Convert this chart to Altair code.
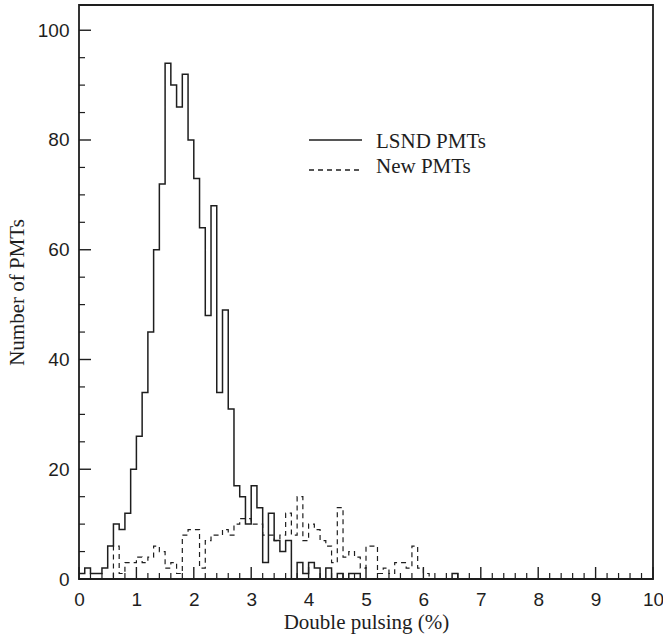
import altair as alt
import pandas as pd
import numpy as np

# ---- data (bins of 0.1 % from 0 to 10) ----
bin_width = 0.1
lsnd_counts = [
    1, 2, 1, 1, 2, 6, 10, 9, 12, 20,
    26, 34, 45, 60, 72, 94, 90, 86, 92, 80,
    73, 64, 48, 68, 34, 49, 31, 17, 15, 10,
    17, 13, 3, 12, 7, 5, 7, 0, 3, 1,
    3, 2, 0, 2, 0, 1, 0, 1, 1, 0,
    0, 0, 0, 0, 0, 0, 0, 0, 0, 0,
    0, 0, 0, 0, 0, 1, 0, 0, 0, 0,
    0, 0, 0, 0, 0, 0, 0, 0, 0, 0,
    0, 0, 0, 0, 0, 0, 0, 0, 0, 0,
    0, 0, 0, 0, 0, 0, 0, 0, 0, 0,
]
new_counts = [
    0, 0, 0, 0, 0, 0, 6, 1, 3, 3,
    4, 3, 4, 6, 5, 2, 3, 1, 8, 9,
    9, 2, 7, 8, 8, 9, 8, 10, 11, 11,
    10, 10, 8, 8, 7, 8, 12, 8, 15, 7,
    10, 9, 7, 6, 3, 13, 4, 5, 4, 2,
    6, 6, 1, 2, 1, 3, 3, 2, 6, 2,
    1, 0, 0, 0, 0, 0, 0, 0, 0, 0,
    0, 0, 0, 0, 0, 0, 0, 0, 0, 0,
    0, 0, 0, 0, 0, 0, 0, 0, 0, 0,
    0, 0, 0, 0, 0, 0, 0, 0, 0, 0,
]
x_major = [0, 1, 2, 3, 4, 5, 6, 7, 8, 9, 10]
y_major = [0, 20, 40, 60, 80, 100]
legend_labels = ["LSND PMTs", "New PMTs"]

edges = np.round(np.arange(len(lsnd_counts) + 1) * bin_width, 2)
x_minor = [float(v) for v in np.round(np.arange(0, 10.01, 0.2), 2) if abs(v - round(v)) > 1e-6]
y_minor = [v for v in range(0, 101, 5) if v % 20 != 0]

df_lsnd = pd.DataFrame({"x": edges, "n": lsnd_counts + [lsnd_counts[-1]]})
df_new = pd.DataFrame({"x": edges, "n": new_counts + [new_counts[-1]]})

W, H = 574, 574
XDOM = [0, 10]
YDOM = [0, 104.6]
INK = "#1e1e1e"
SANS = "Liberation Sans"
SERIF = "Liberation Serif"
MAJ, MIN = 12, 6

xscale = alt.Scale(domain=XDOM, nice=False, zero=False)
yscale = alt.Scale(domain=YDOM, nice=False)

solid = alt.Chart(df_lsnd).mark_line(
    interpolate="step-after", color=INK, strokeWidth=1.5
).encode(
    x=alt.X("x:Q", scale=xscale, axis=alt.Axis(
        orient="bottom", values=x_major, format="d", ticks=False,
        domain=False, grid=False,
        labelFont=SANS, labelFontSize=19, labelColor=INK, labelPadding=11,
        labelFlush=False, labelOverlap=False,
        title="Double pulsing (%)", titleFont=SERIF, titleFontSize=21,
        titleFontWeight="normal", titleColor=INK, titlePadding=2)),
    y=alt.Y("n:Q", scale=yscale, axis=alt.Axis(
        orient="left", values=y_major, format="d", ticks=False,
        domain=False, grid=False,
        labelFont=SANS, labelFontSize=19, labelColor=INK, labelPadding=10,
        labelFlush=False, labelOverlap=False,
        title="Number of PMTs", titleFont=SERIF, titleFontSize=21,
        titleFontWeight="normal", titleColor=INK, titlePadding=10)),
)

dashed = alt.Chart(df_new).mark_line(
    interpolate="step-after", color=INK, strokeWidth=1.2, strokeDash=[5, 4]
).encode(
    x=alt.X("x:Q", scale=xscale, axis=None),
    y=alt.Y("n:Q", scale=yscale, axis=None),
)

# inward tick marks (ROOT style), positioned by the shared scales
def xticks(vals, length, width):
    return alt.Chart(pd.DataFrame({"v": vals})).mark_rule(
        color=INK, strokeWidth=width
    ).encode(x=alt.X("v:Q", scale=xscale, axis=None),
             y=alt.value(H), y2=alt.value(H - length))

def yticks(vals, length, width):
    return alt.Chart(pd.DataFrame({"v": vals})).mark_rule(
        color=INK, strokeWidth=width
    ).encode(y=alt.Y("v:Q", scale=yscale, axis=None),
             x=alt.value(0), x2=alt.value(length))

leg_solid = alt.Chart(pd.DataFrame({"k": [legend_labels[0]]})).mark_rule(
    color=INK, strokeWidth=1.6
).encode(x=alt.value(230), x2=alt.value(283), y=alt.value(135))
leg_dash = alt.Chart(pd.DataFrame({"k": [legend_labels[1]]})).mark_rule(
    color=INK, strokeWidth=1.3, strokeDash=[5, 4]
).encode(x=alt.value(230), x2=alt.value(283), y=alt.value(165))
leg_text1 = alt.Chart(pd.DataFrame({"k": [legend_labels[0]]})).mark_text(
    align="left", baseline="alphabetic", font=SERIF, fontSize=21, color=INK
).encode(text="k:N", x=alt.value(297), y=alt.value(143))
leg_text2 = alt.Chart(pd.DataFrame({"k": [legend_labels[1]]})).mark_text(
    align="left", baseline="alphabetic", font=SERIF, fontSize=21, color=INK
).encode(text="k:N", x=alt.value(297), y=alt.value(168))

chart = alt.layer(
    solid, dashed,
    xticks(x_major, MAJ, 1.4), xticks(x_minor, MIN, 1.2),
    yticks(y_major, MAJ, 1.4), yticks(y_minor, MIN, 1.2),
    leg_solid, leg_dash, leg_text1, leg_text2,
).resolve_axis(
    x="independent", y="independent"
).properties(
    width=W, height=H,
    autosize=alt.AutoSizeParams(type="none"),
    padding={"left": 79, "top": 5, "right": 10, "bottom": 64},
    background="white",
).configure_view(
    stroke=INK, strokeWidth=1.8
)

chart.save("out.html", embed_options={"renderer": "svg", "actions": False})
